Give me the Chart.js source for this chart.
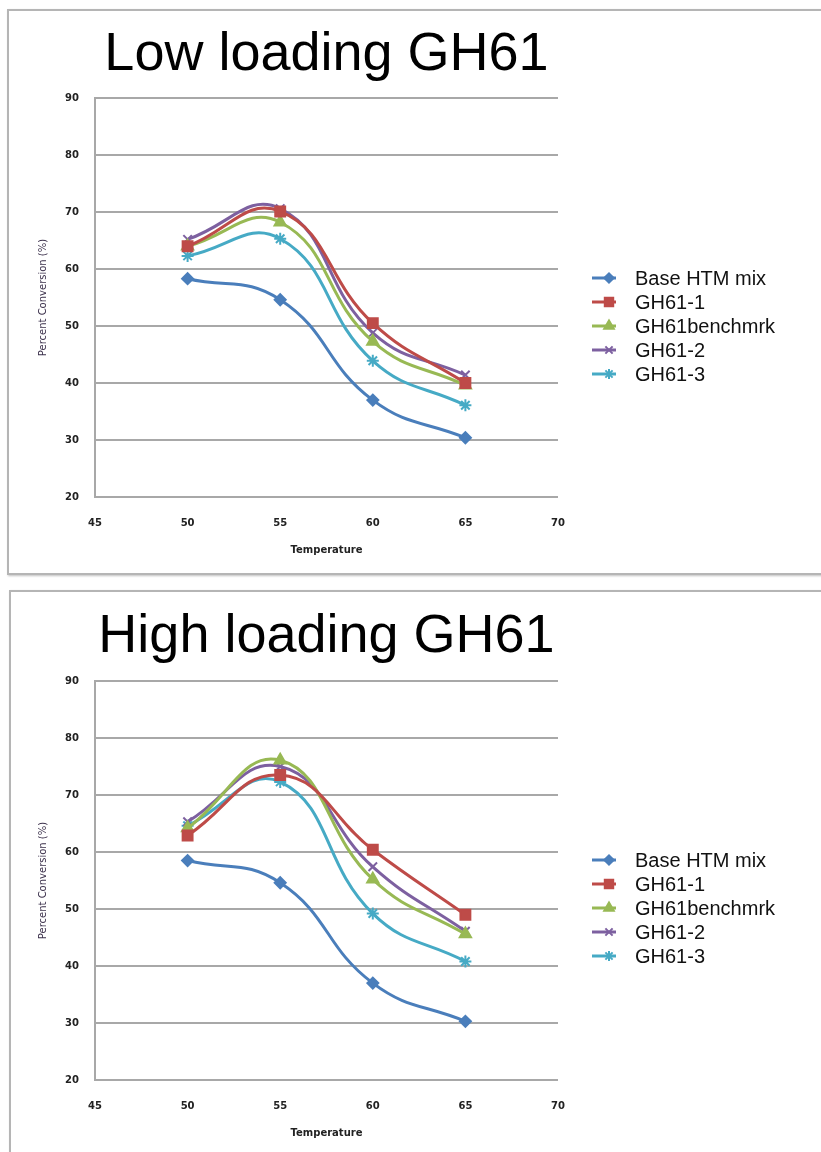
<!DOCTYPE html>
<html>
<head>
<meta charset="utf-8">
<script src="https://cdn.jsdelivr.net/npm/chart.js@4.4.1/dist/chart.umd.min.js"></script>
<style>
  html, body { margin:0; padding:0; background:#fff; }
  body { position:relative; width:821px; height:1152px; overflow:hidden; }
  .panel { position:absolute; border:2px solid #b5b5b5; box-shadow:1px 1px 2px rgba(0,0,0,0.25); background:#fff; }
  #panel-low  { left:7px; top:9px;   width:840px; height:562px; }
  #panel-high { left:9px; top:590px; width:840px; height:600px; }
  canvas { position:absolute; left:0; }
  #chart-low  { top:12px; }
  #chart-high { top:593px; }
</style>
</head>
<body>
<div class="panel" id="panel-low"></div>
<div class="panel" id="panel-high"></div>
<canvas id="chart-low" width="821" height="560"></canvas>
<canvas id="chart-high" width="821" height="559"></canvas>

<script>
/* ═══════════════════════════════════
   GH61 LOADING — PERCENT CONVERSION
═══════════════════════════════════ */

var seriesNames = ['Base HTM mix','GH61-1','GH61benchmrk','GH61-2','GH61-3'];
var temperatures = [50, 55, 60, 65];

// low loading
var lowBase   = [58.3, 54.6, 37.0, 30.4];
var lowGH61_1 = [64.0, 70.1, 50.5, 40.0];
var lowBench  = [64.0, 68.2, 47.3, 39.6];
var lowGH61_2 = [65.2, 70.6, 48.8, 41.4];
var lowGH61_3 = [62.3, 65.3, 43.9, 36.1];

// high loading
var highBase   = [58.5, 54.6, 37.0, 30.3];
var highGH61_1 = [62.9, 73.5, 60.4, 49.0];
var highBench  = [64.2, 76.1, 55.2, 45.6];
var highGH61_2 = [65.3, 75.0, 57.4, 46.1];
var highGH61_3 = [64.6, 72.3, 49.2, 40.8];

// axis ranges
var xTicks = {min:45, max:70, step:5};
var yTicks = {min:20, max:90, step:10};

var seriesColors = ['#4A7EBB','#BE4B48','#98B954','#7D60A0','#46AAC5'];
var seriesMarkers = ['rectRot','rect','triangle','crossRot','star'];
var markerSizes = [5.5, 7, 6.5, 6, 6];

function makeDatasets(rows){
  return rows.map(function(vals, i){
    return {
      label: seriesNames[i],
      data: temperatures.map(function(t, j){ return {x:t, y:vals[j]}; }),
      borderColor: seriesColors[i],
      backgroundColor: seriesColors[i],
      borderWidth: 3,
      tension: 0.45,
      pointStyle: seriesMarkers[i],
      pointRadius: markerSizes[i],
      pointBorderWidth: 2,
      pointBackgroundColor: seriesColors[i],
      pointBorderColor: seriesColors[i]
    };
  });
}

// line + marker legend to the right of the plot
var sideLegend = {
  id: 'sideLegend',
  afterDraw: function(chart, args, opts){
    var ctx = chart.ctx;
    ctx.save();
    chart.data.datasets.forEach(function(ds, i){
      var y = opts.top + i*opts.gap;
      ctx.strokeStyle = ds.borderColor;
      ctx.fillStyle = ds.backgroundColor;
      ctx.lineWidth = 3;
      ctx.beginPath();
      ctx.moveTo(opts.x, y);
      ctx.lineTo(opts.x + 24, y);
      ctx.stroke();
      ctx.lineWidth = 2;
      Chart.helpers.drawPoint(ctx, {pointStyle:ds.pointStyle, radius:ds.pointRadius*0.85, rotation:0, borderWidth:2}, opts.x + 17, y);
      ctx.fillStyle = '#111';
      ctx.font = '20px "Liberation Sans", Arial, sans-serif';
      ctx.textBaseline = 'middle';
      ctx.textAlign = 'left';
      ctx.fillText(ds.label, opts.x + 43, y + 1);
    });
    ctx.restore();
  }
};

function buildChart(id, title, rows, lay){
  var ctx = document.getElementById(id);
  return new Chart(ctx, {
    type:'line',
    data:{ datasets: makeDatasets(rows) },
    plugins:[sideLegend],
    options:{
      responsive:false,
      animation:false,
      layout:{ padding:{top:0, left:0, right:263, bottom:0} },
      plugins:{
        legend:{display:false},
        tooltip:{enabled:false},
        title:{
          display:true,
          text:title,
          fullSize:false,
          color:'#000',
          font:{family:'"Liberation Sans", Arial, sans-serif', size:54, weight:'normal', lineHeight:1},
          padding:{top:lay.titlePad, bottom:lay.titlePad}
        },
        sideLegend:{x:592, top:lay.legendTop, gap:24}
      },
      scales:{
        x:{
          type:'linear',
          min:xTicks.min, max:xTicks.max,
          afterFit:function(s){ s.height = lay.xHeight; },
          grid:{display:false, drawTicks:false},
          border:{display:false},
          ticks:{stepSize:xTicks.step, padding:20, color:'#222',
                 font:{family:'"DejaVu Sans", sans-serif', size:10, weight:'bold'}},
          title:{display:true, text:'Temperature', color:'#222',
                 font:{family:'"DejaVu Sans", sans-serif', size:10, weight:'bold'},
                 padding:{top:0, bottom:lay.xTitlePad}}
        },
        y:{
          min:yTicks.min, max:yTicks.max,
          afterFit:function(s){ s.width = 95; },
          grid:{color:'#a8a8a8', lineWidth:2, drawTicks:false},
          border:{display:true, color:'#a8a8a8', width:2},
          ticks:{stepSize:yTicks.step, padding:16, color:'#222',
                 font:{family:'"DejaVu Sans", sans-serif', size:10, weight:'bold'}},
          title:{display:true, text:'Percent Conversion (%)', color:'#3a2f4a',
                 font:{family:'"DejaVu Sans", sans-serif', size:10},
                 padding:{top:37, bottom:0}}
        }
      }
    }
  });
}

buildChart('chart-low', 'Low loading GH61',
  [lowBase, lowGH61_1, lowBench, lowGH61_2, lowGH61_3],
  {titlePad:16, xHeight:75, xTitlePad:16, legendTop:266});

buildChart('chart-high', 'High loading GH61',
  [highBase, highGH61_1, highBench, highGH61_2, highGH61_3],
  {titlePad:17, xHeight:72, xTitlePad:13, legendTop:267});
</script>
</body>
</html>
